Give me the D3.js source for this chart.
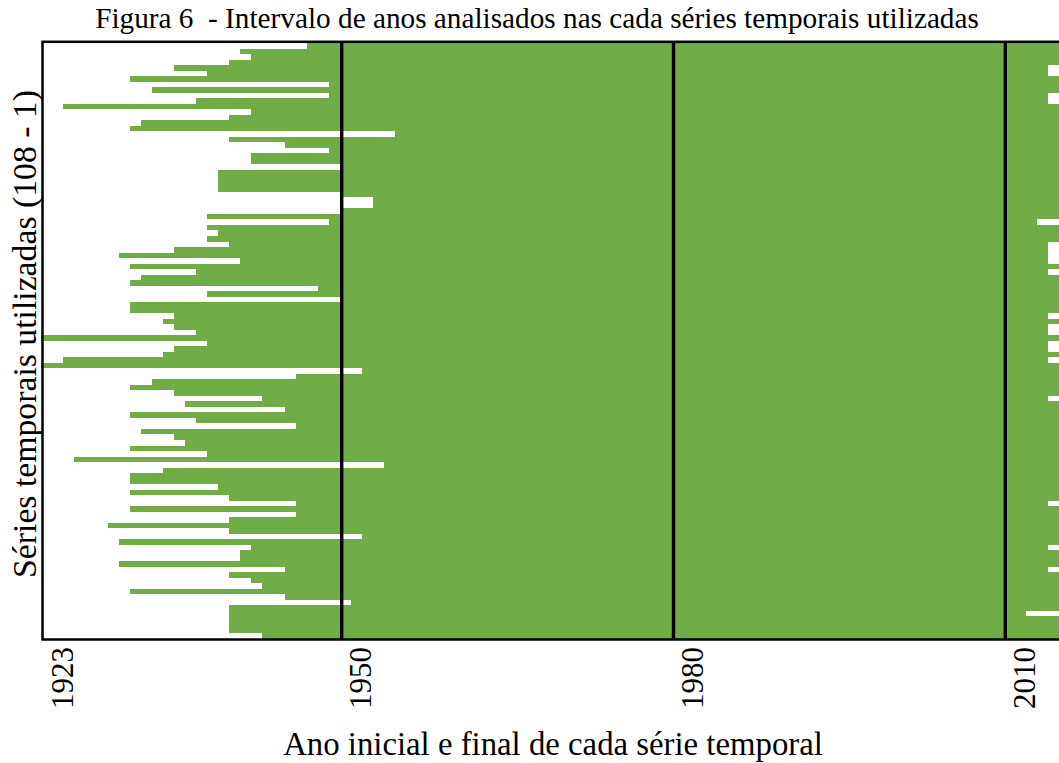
<!DOCTYPE html>
<html>
<head>
<meta charset="utf-8">
<script src="https://cdn.jsdelivr.net/npm/d3@7"></script>
<style>
  html, body { margin: 0; padding: 0; background: #ffffff; }
  svg { display: block; }
  text { font-family: "Liberation Serif", "Times New Roman", Times, serif; fill: #000; }
</style>
</head>
<body>
<svg id="chart" width="1059" height="763"></svg>
<script>
// ---- Data (top row first) ----
const seriesStart = [
  1947, 1941, 1942, 1940, 1935, 1938, 1931, 1949, 1933, 1949,
  1937, 1925, 1942, 1940, 1932, 1931, 1955, 1940, 1945, 1949,
  1942, 1942, 1950, 1939, 1939, 1939, 1939, 1950, 1953, 1953,
  1950, 1938, 1949, 1938, 1939, 1938, 1940, 1935, 1930, 1941,
  1931, 1937, 1932, 1931, 1948, 1938, 1950, 1931, 1931, 1935,
  1934, 1935, 1937, 1923, 1938, 1935, 1934, 1925, 1923, 1952,
  1946, 1933, 1931, 1935, 1943, 1936, 1945, 1931, 1937, 1946,
  1932, 1935, 1936, 1931, 1938, 1926, 1954, 1934, 1931, 1931,
  1939, 1931, 1940, 1946, 1931, 1946, 1940, 1929, 1940, 1952,
  1930, 1942, 1941, 1941, 1930, 1945, 1940, 1942, 1943, 1931,
  1945, 1951, 1940, 1940, 1940, 1940, 1940, 1943
];
const seriesEnd = [
  2015, 2015, 2015, 2015, 2014, 2014, 2015, 2015, 2015, 2014,
  2014, 2015, 2015, 2015, 2015, 2015, 2015, 2015, 2015, 2015,
  2015, 2015, 2015, 2015, 2015, 2015, 2015, 2015, 2015, 2015,
  2015, 2015, 2013, 2015, 2015, 2015, 2014, 2014, 2014, 2014,
  2015, 2014, 2015, 2015, 2015, 2015, 2015, 2015, 2015, 2014,
  2015, 2014, 2014, 2015, 2014, 2014, 2015, 2014, 2015, 2015,
  2015, 2015, 2015, 2015, 2014, 2015, 2015, 2015, 2015, 2015,
  2015, 2015, 2015, 2015, 2015, 2015, 2015, 2015, 2015, 2015,
  2015, 2015, 2015, 2014, 2015, 2015, 2015, 2015, 2015, 2015,
  2015, 2014, 2015, 2015, 2015, 2014, 2015, 2015, 2015, 2015,
  2015, 2015, 2015, 2012, 2015, 2015, 2015, 2015
];
const tickYears = [1923, 1950, 1980, 2010];
const refLines = [1950, 1980, 2010];
const domainYears = [1923, 2015];

const titleText = "Figura 6\u00a0 - Intervalo de anos analisados nas cada séries temporais utilizadas";
const xTitle = "Ano inicial e final de cada série temporal";
const yTitle = "Séries temporais utilizadas (108 - 1)";

const barColor = "#70ad47";
const fontFam = "'Liberation Serif', 'Times New Roman', Times, serif";

// ---- Layout ----
const svg = d3.select("#chart");
const plot = { left: 41.3, right: 1058.8, top: 43, bottom: 638.5 };

const x = d3.scaleLinear().domain(domainYears).range([plot.left, plot.right]);
const rows = d3.range(seriesStart.length);
const y = d3.scaleBand().domain(rows).range([plot.top, plot.bottom]).padding(0);

// bars
svg.append("g")
  .attr("shape-rendering", "crispEdges")
  .selectAll("rect")
  .data(rows)
  .join("rect")
  .attr("x", i => x(seriesStart[i]))
  .attr("y", i => y(i))
  .attr("width", i => x(seriesEnd[i]) - x(seriesStart[i]))
  .attr("height", y.bandwidth())
  .attr("fill", barColor);

// reference vertical lines
svg.append("g")
  .selectAll("line")
  .data(refLines)
  .join("line")
  .attr("x1", d => x(d) + 1.8)
  .attr("x2", d => x(d) + 1.8)
  .attr("y1", plot.top)
  .attr("y2", plot.bottom)
  .attr("stroke", "#000")
  .attr("stroke-width", 3.4);

// plot frame
svg.append("rect")
  .attr("x", plot.left + 1.2)
  .attr("y", plot.top - 1.2)
  .attr("width", 1070 - plot.left)
  .attr("height", plot.bottom - plot.top + 2.2)
  .attr("fill", "none")
  .attr("stroke", "#000")
  .attr("stroke-width", 2.5);

// x axis labels (rotated)
const axisY = plot.bottom + 1;
const axis = svg.append("g")
  .attr("transform", `translate(0,${axisY})`)
  .call(d3.axisBottom(x).tickValues(tickYears).tickFormat(d3.format("d")).tickSize(0));
axis.attr("font-family", null);
axis.select(".domain").remove();
axis.selectAll(".tick line").remove();
axis.selectAll(".tick text")
  .attr("x", null).attr("y", null).attr("dy", null)
  .attr("transform", `translate(31,${647 - axisY}) rotate(-90)`)
  .attr("text-anchor", "end")
  .style("font-family", fontFam)
  .attr("font-size", 31)
  .attr("fill", "#000");

function fit(sel, target) {
  const base = 30;
  sel.style("font-family", fontFam).attr("font-size", base);
  const w = sel.node().getComputedTextLength();
  sel.attr("font-size", base * target / w);
}

// title
const t = svg.append("text")
  .attr("x", 537).attr("y", 28)
  .attr("text-anchor", "middle")
  .text(titleText);
fit(t, 884);

// x axis title
const xt = svg.append("text")
  .attr("x", 553).attr("y", 755)
  .attr("text-anchor", "middle")
  .text(xTitle);
fit(xt, 540);

// y axis title
const yt = svg.append("text")
  .attr("transform", "translate(36,334) rotate(-90)")
  .attr("text-anchor", "middle")
  .text(yTitle);
fit(yt, 488);
</script>
</body>
</html>
